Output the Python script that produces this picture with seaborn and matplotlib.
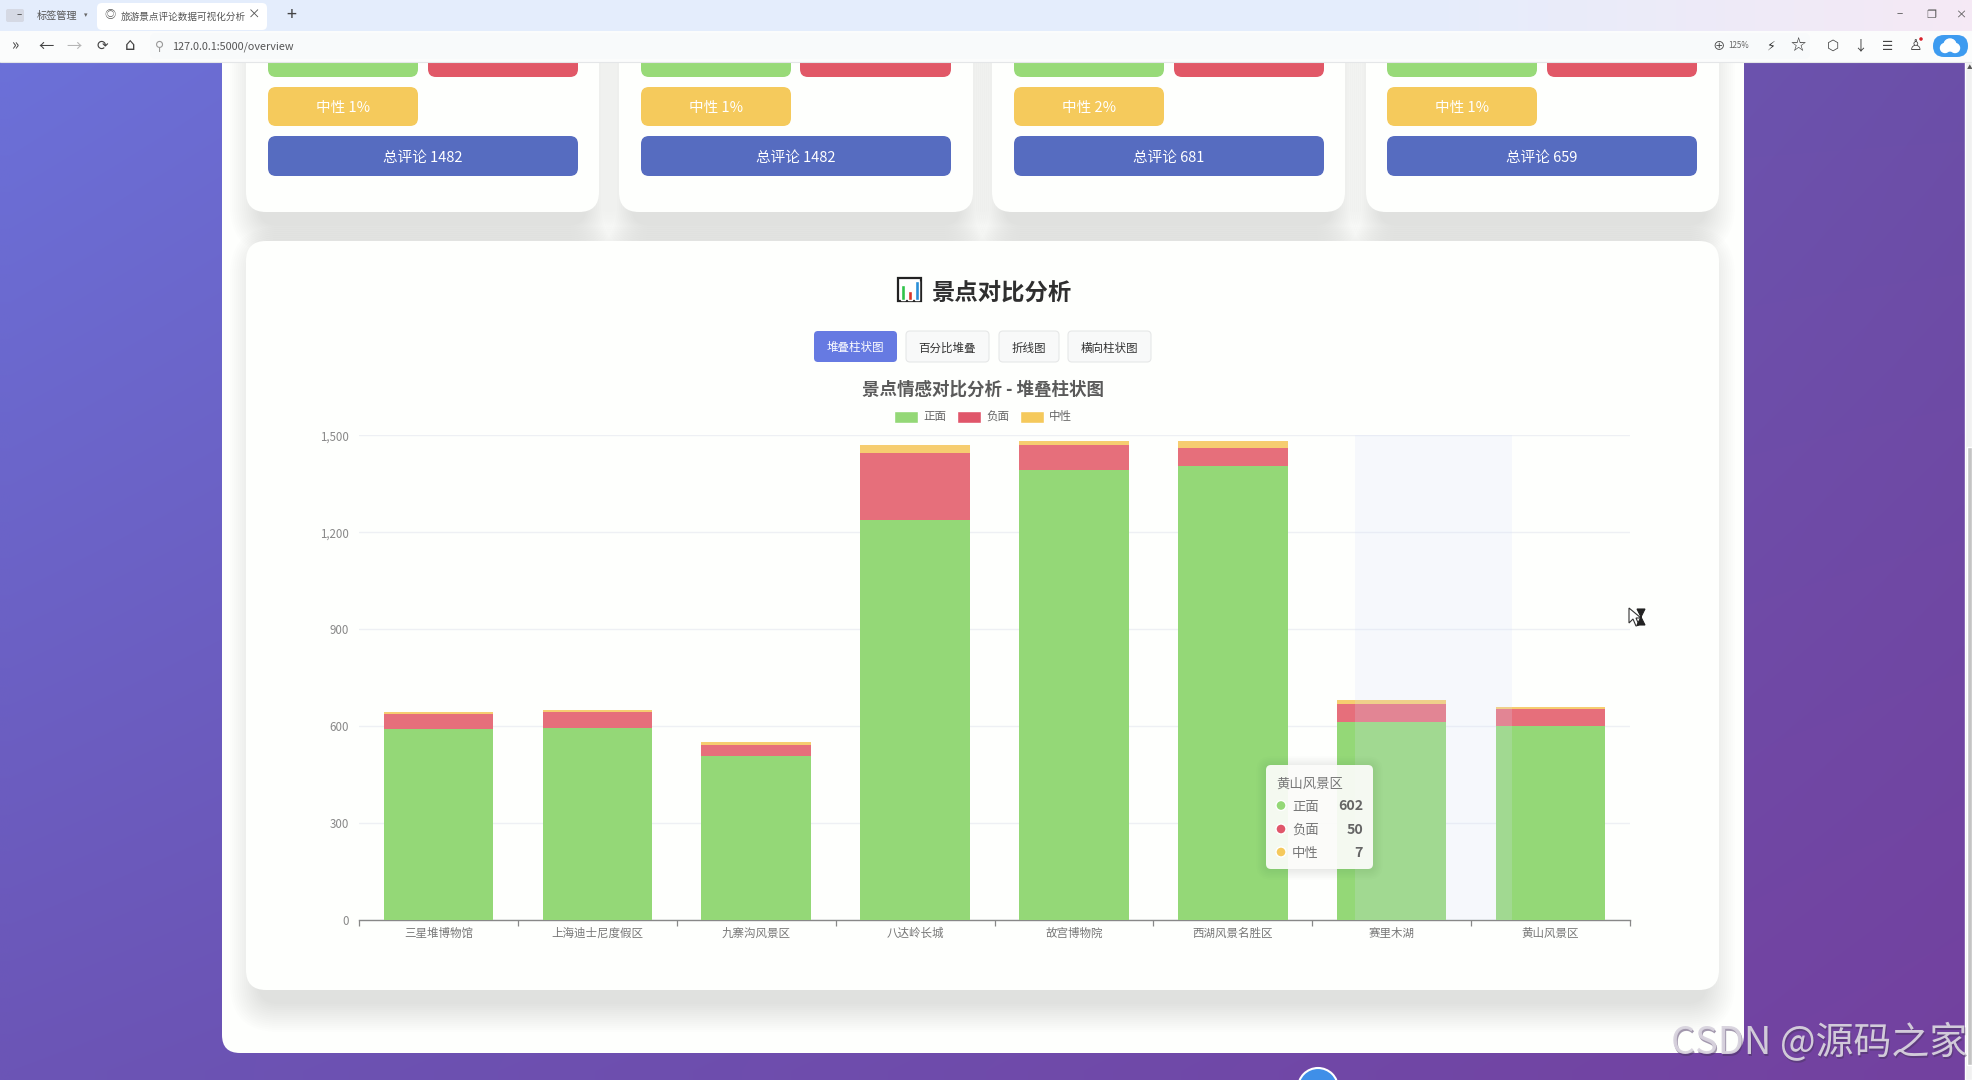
import numpy as np
import pandas as pd
import matplotlib
matplotlib.use("Agg")
import matplotlib.pyplot as plt
import seaborn as sns
from matplotlib.patches import FancyBboxPatch, Rectangle, Circle, Polygon, Patch

spots = ["三星堆博物馆", "上海迪士尼度假区", "九寨沟风景区", "八达岭长城", "故宫博物院", "西湖风景名胜区", "赛里木湖", "黄山风景区"]
positive = [591, 596, 508, 1238, 1394, 1404, 614, 602]
negative = [47, 48, 34, 207, 75, 58, 54, 50]
neutral = [6, 6, 8, 24, 13, 20, 13, 7]
series_names = ["正面", "负面", "中性"]
yticks = [0, 300, 600, 900, 1200, 1500]

card_pos = ["94%", "95%", "90%", "91%"]
card_neg = ["5%", "4%", "8%", "8%"]
card_neu = ["1%", "1%", "2%", "1%"]
card_total = [1482, 1482, 681, 659]
buttons = ["堆叠柱状图", "百分比堆叠", "折线图", "横向柱状图"]

GREEN = "#94d877"
RED = "#e66f7b"
YELLOW = "#f6cd70"
LEGEND_RED = "#e0566a"
LEGEND_YELLOW = "#f5c95c"
PANEL = "#fefffd"

W, H = 1972, 1080
sns.set_theme(style="white")
plt.rcParams["font.family"] = ["Noto Sans CJK SC", "DejaVu Sans"]
plt.rcParams["axes.unicode_minus"] = False

fig = plt.figure(figsize=(W / 100, H / 100), dpi=100)
page = fig.add_axes([0, 0, 1, 1], zorder=0)
page.axis("off")


def round_box(ax, x0, y0, x1, y1, r, color, z=2, **kw):
    box = FancyBboxPatch((x0 + r, y0 + r), x1 - x0 - 2 * r, y1 - y0 - 2 * r,
                         boxstyle=f"round,pad={r},rounding_size={r}",
                         facecolor=color, edgecolor=kw.pop("edgecolor", "none"),
                         linewidth=kw.pop("linewidth", 0), zorder=z, **kw)
    ax.add_patch(box)
    return box


def shadow(ax, x0, y0, x1, y1, r, z=1.5, dy=14, inset=12, alpha=0.0075, steps=15, step=2.0):
    for i in range(steps):
        d = i * step
        round_box(ax, x0 - d + inset, y0 - d + dy, x1 + d - inset, y1 + d + dy, r + d, "#303a30", z=z, alpha=alpha)


# page background
yy, xx = np.mgrid[0:1:60j, 0:1:100j]
corners = np.array([[0x6b, 0x72, 0xda], [0x6b, 0x50, 0xa9], [0x6b, 0x55, 0xb6], [0x73, 0x41, 0x9f]]) / 255
grad = ((1 - xx) * (1 - yy))[..., None] * corners[0] + (xx * (1 - yy))[..., None] * corners[1] \
    + ((1 - xx) * yy)[..., None] * corners[2] + (xx * yy)[..., None] * corners[3]
page.imshow(grad, extent=(0, W, H, 0), aspect="auto", zorder=0, interpolation="bilinear")

# white page panel and cards
round_box(page, 222, 20, 1744, 1053, 18, PANEL, z=1)
card_x = [(246, 599), (619, 973), (992, 1345), (1366, 1719)]
green_x = [(268, 418), (641, 791), (1014, 1164), (1387, 1537)]
red_x = [(428, 578), (800, 951), (1174, 1324), (1547, 1697)]
for i in range(4):
    shadow(page, card_x[i][0], 20, card_x[i][1], 212, 20)
    round_box(page, card_x[i][0], 20, card_x[i][1], 212, 20, PANEL, z=2)
    round_box(page, green_x[i][0], 37, green_x[i][1], 77, 8, "#98da78", z=3)
    round_box(page, red_x[i][0], 37, red_x[i][1], 77, 8, "#e15867", z=3)
    round_box(page, green_x[i][0], 87, green_x[i][1], 126, 8, "#f5ca5c", z=3)
    round_box(page, green_x[i][0], 136, red_x[i][1], 176, 8, "#566cc0", z=3)
    page.text(sum(green_x[i]) / 2, 57, "正面 " + card_pos[i], color="white", fontsize=10.5, ha="center", va="center", zorder=4)
    page.text(sum(red_x[i]) / 2, 57, "负面 " + card_neg[i], color="white", fontsize=10.5, ha="center", va="center", zorder=4)
    page.text(sum(green_x[i]) / 2, 108, "中性 " + card_neu[i], color="white", fontsize=10.5, ha="center", va="center", zorder=4)
    page.text((green_x[i][0] + red_x[i][1]) / 2, 158, f"总评论 {card_total[i]}", color="white", fontsize=10.5,
              ha="center", va="center", zorder=4)

shadow(page, 246, 241, 1719, 990, 20)
round_box(page, 246, 241, 1719, 990, 20, PANEL, z=2)

# heading with the little chart icon
page.add_patch(Rectangle((898, 278), 23, 23, facecolor="white", edgecolor="#222222", linewidth=1.6, zorder=3))
page.add_patch(Rectangle((901, 285), 4, 15, facecolor="#2fc34a", zorder=4))
page.add_patch(Rectangle((908, 291), 4, 9, facecolor="#d8352a", zorder=4))
page.add_patch(Rectangle((915, 281), 4, 19, facecolor="#2a8fd8", zorder=4))
page.text(931, 293, "景点对比分析", fontsize=16.8, fontweight="bold", color="#2f2f2f", va="center", ha="left", zorder=4)

button_x = [(814, 897), (906, 989), (999, 1059), (1068, 1151)]
for i, name in enumerate(buttons):
    active = i == 0
    round_box(page, button_x[i][0], 331, button_x[i][1], 362, 4, "#667ae2" if active else "#f8f9f9", z=3,
              edgecolor="none" if active else "#e6e8e8", linewidth=0 if active else 0.8)
    page.text(sum(button_x[i]) / 2, 348, name, fontsize=8.3, color="white" if active else "#333333",
              ha="center", va="center", zorder=4)

page.text(983, 390, "景点情感对比分析 - 堆叠柱状图", fontsize=12.6, fontweight="bold", color="#5a5a5a",
          ha="center", va="center", zorder=4)

# browser chrome
tabs = np.interp(np.linspace(0, 1, 200), [0, 0.7, 1], [0, 0, 1])[None, :, None]
tab_img = (1 - tabs) * (np.array([0xe4, 0xed, 0xfc]) / 255) + tabs * (np.array([0xf5, 0xe9, 0xf5]) / 255)
page.imshow(tab_img, extent=(0, W, 31, 0), aspect="auto", zorder=10)
page.add_patch(Rectangle((0, 31), W, 31, facecolor="#fbfcfc", edgecolor="none", zorder=10))
page.plot([0, W], [62, 62], color="#e4e6e8", linewidth=0.8, zorder=11)
round_box(page, 150, 33, 1810, 59, 6, "#f8fafb", z=11)
round_box(page, 97, 3, 267, 30, 5, "#ffffff", z=11)
round_box(page, 6, 9, 24, 22, 2, "#d5d9e4", z=11)
page.text(19, 15, "–", fontsize=7, color="#444444", ha="center", va="center", zorder=12)
page.text(37, 16, "标签管理", fontsize=7.3, color="#555555", va="center", zorder=12)
page.text(86, 15, "▾", fontsize=5, color="#666666", va="center", ha="center", zorder=12)
page.text(110, 15, "◎", fontsize=8, color="#555555", va="center", ha="center", zorder=12)
tab_title = page.text(121, 17, "旅游景点评论数据可视化分析", fontsize=6.9, color="#555555", va="center", zorder=12)
tab_title.set_clip_path(Rectangle((121, 3), 125, 27, transform=page.transData))
page.text(254, 15, "×", fontsize=9, color="#555555", va="center", ha="center", zorder=12)
page.text(291, 15, "+", fontsize=13, color="#444444", va="center", ha="center", zorder=12)
page.text(172, 47, "127.0.0.1:5000/overview", fontsize=7.8, color="#555555", va="center", zorder=12)

for x, glyph, col, size in [(15, "»", "#444444", 11), (46, "←", "#444444", 11), (74, "→", "#b5b5b5", 11),
                            (102, "⟳", "#444444", 10), (130, "⌂", "#444444", 12), (160, "⚲", "#999999", 9),
                            (1771, "⚡", "#333333", 9), (1798, "☆", "#333333", 11), (1833, "⬡", "#444444", 10),
                            (1860, "↓", "#444444", 10), (1888, "☰", "#444444", 9), (1916, "♙", "#444444", 11)]:
    page.text(x, 46, glyph, fontsize=size, color=col, ha="center", va="center", zorder=12)
page.text(1719, 46, "⊕", fontsize=9, color="#444444", ha="center", va="center", zorder=12)
page.text(1728, 46, "125%", fontsize=5.8, color="#666666", va="center", zorder=12)
page.add_patch(Circle((1921, 39), 2.5, facecolor="#d8202a", zorder=13))
round_box(page, 1933, 35, 1968, 57, 11, "#3d9bf0", z=12)
for cx, cy, rad in [(1945, 48, 4.5), (1950, 45, 6), (1955, 48, 4.5)]:
    page.add_patch(Circle((cx, cy), rad, facecolor="white", zorder=13))
for x, glyph in [(1900, "−"), (1931, "❐"), (1961, "×")]:
    page.text(x, 15, glyph, fontsize=8, color="#555555", ha="center", va="center", zorder=12)

# scrollbar and the round button cut off at the bottom
page.add_patch(Rectangle((1965, 62), 7, H - 62, facecolor="#f1f1f1", zorder=5))
page.add_patch(Rectangle((1967, 447), 5, 618, facecolor="#c4c4c4", zorder=6))
page.text(1970, 68, "▲", fontsize=4, color="#555555", ha="center", va="center", zorder=6)
page.add_patch(Circle((1318, 1088), 20, facecolor="#3f8fe8", edgecolor="white", linewidth=1.5, zorder=5))

page.set_xlim(0, W)
page.set_ylim(H, 0)

# the chart itself
x0, x1, y0, y1 = 359, 1630, 920.3, 435.3
ax = fig.add_axes([x0 / W, 1 - y0 / H, (x1 - x0) / W, (y0 - y1) / H], zorder=1)
ax.patch.set_alpha(0)

df = pd.DataFrame({"spot": spots, "positive": positive, "negative": negative, "neutral": neutral})
df["pos_neg"] = df["positive"] + df["negative"]
df["total"] = df["pos_neg"] + df["neutral"]

for col, colour in [("total", YELLOW), ("pos_neg", RED), ("positive", GREEN)]:
    sns.barplot(data=df, x="spot", y=col, color=colour, saturation=1, width=0.69, linewidth=0, ax=ax, zorder=3)

ax.set_xlim(-0.5, len(spots) - 0.5)
ax.set_ylim(0, 1500)
ax.set_xlabel("")
ax.set_ylabel("")
ax.set_yticks(yticks)
ax.set_yticklabels([f"{v:,}" for v in yticks], fontsize=8.3, color="#888888")
ax.tick_params(axis="y", length=0, pad=7)
ax.tick_params(axis="x", which="major", length=0, pad=9.5, labelsize=8.3, labelcolor="#777777")
for label in ax.get_xticklabels():
    label.set_verticalalignment("center")
ax.set_xticks(np.arange(-0.5, len(spots)), minor=True)
ax.tick_params(axis="x", which="minor", length=4, width=0.9, color="#888888", bottom=True)
ax.grid(axis="y", color="#eef0f4", linewidth=1, zorder=0)
ax.set_axisbelow(True)
for side in ["top", "right", "left"]:
    ax.spines[side].set_visible(False)
ax.spines["bottom"].set_color("#888888")
ax.spines["bottom"].set_linewidth(1)

# axis pointer left behind by the screen recording, over the last bars
ax.axvspan(5.768, 6.76, color="#d6e0fc", alpha=0.2, linewidth=0, zorder=5)

handles = [Patch(facecolor=GREEN, label=series_names[0]),
           Patch(facecolor=LEGEND_RED, label=series_names[1]),
           Patch(facecolor=LEGEND_YELLOW, label=series_names[2])]
leg = ax.legend(handles=handles, ncol=3, loc="center", bbox_to_anchor=((983 - x0) / (x1 - x0), (y0 - 417) / (y0 - y1)),
                frameon=False, fontsize=8.3, handlelength=2.1, handleheight=1.2, handletextpad=0.45,
                columnspacing=0.9, labelcolor="#666666", borderpad=0)

# tooltip and cursor on a top layer
top = fig.add_axes([0, 0, 1, 1], zorder=2)
top.axis("off")
top.patch.set_alpha(0)
shadow(top, 1266, 765, 1373, 869, 5, z=2, dy=1, inset=0, alpha=0.012, steps=7, step=1.6)
round_box(top, 1266, 765, 1373, 869, 5, "#fdfdfb", z=3, alpha=0.93)
top.text(1276, 783.5, spots[7], fontsize=9.6, color="#777777", va="center", zorder=4)
rows = [(805.5, GREEN, series_names[0], positive[7]), (829, LEGEND_RED, series_names[1], negative[7]),
        (852, LEGEND_YELLOW, series_names[2], neutral[7])]
for y, colour, name, value in rows:
    top.add_patch(Circle((1281, y), 5, facecolor=colour, zorder=4))
    top.text(1292, y + 1, name, fontsize=9.6, color="#777777", va="center", zorder=4)
    top.text(1363, y + 1, str(value), fontsize=10.2, fontweight="bold", color="#666666", va="center", ha="right", zorder=4)

top.add_patch(Polygon([(1629, 608), (1629, 623), (1633, 619), (1636, 626), (1639, 625), (1636, 618), (1641, 618)],
                      facecolor="white", edgecolor="#333333", linewidth=0.8, zorder=4))
top.add_patch(Polygon([(1637, 609), (1645, 609), (1641, 617), (1645, 625), (1637, 625), (1641, 617)],
                      facecolor="#222222", edgecolor="#222222", linewidth=0.8, zorder=4))

# watermark
for off, col, a in [(1.2, "#4a3560", 0.5), (0, "#d8d3de", 0.95)]:
    top.text(1671 + off, 1044 + off, "CSDN @源码之家", fontsize=27.3, color=col, alpha=a, va="center", ha="left",
             fontweight="light", zorder=6)

top.set_xlim(0, W)
top.set_ylim(H, 0)

fig.savefig("out.png", dpi=100)
